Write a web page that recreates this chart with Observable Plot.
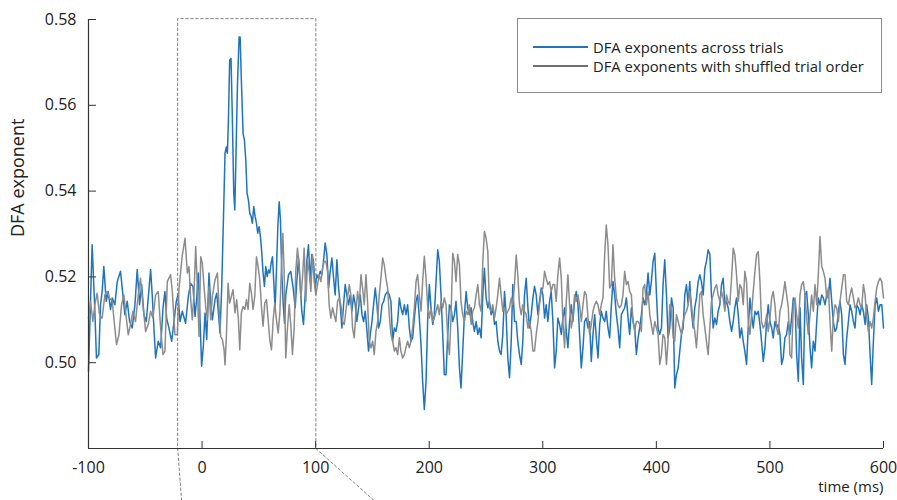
<!DOCTYPE html>
<html><head><meta charset="utf-8">
<script src="https://cdn.jsdelivr.net/npm/d3@7"></script>
<script src="https://cdn.jsdelivr.net/npm/@observablehq/plot@0.6"></script>
<style>
body{margin:0;background:#fff;}
#wrap{position:relative;width:897px;height:500px;font-family:"Open Sans",sans-serif;}
#legend{position:absolute;left:517px;top:18px;width:365px;height:75px;border:1px solid #8c8c8c;box-sizing:border-box;background:#fff;font-size:14.8px;color:#222;}
.row{position:absolute;left:15px;display:flex;align-items:center;height:20px;white-space:nowrap;}
.sw{display:inline-block;width:55px;height:1.6px;margin-right:5px;}
</style></head><body><div id="wrap"></div>
<script>
// ---- data ----
const seriesNames = ["DFA exponents across trials", "DFA exponents with shuffled trial order"];
const xTicks = [-100, 0, 100, 200, 300, 400, 500, 600];
const yTicks = [0.50, 0.52, 0.54, 0.56, 0.58];
const xLabel = "time (ms)";
const yLabel = "DFA exponent";

const blueT = [-100,-96.8,-94.4,-93.0,-90.9,-89.4,-88.0,-86.5,-84.4,-82.7,-80.6,-79.1,-76.8,-74.7,-71.8,-69.7,-68.0,-65.9,-63.8,-61.5,-59.1,-57.1,-55.0,-53.2,-51.2,-49.1,-47.4,-45.3,-43.9,-42.4,-40.9,-38.6,-36.5,-34.4,-32.7,-31.2,-29.2,-26.8,-24.7,-22.7,-21.2,-19.4,-17.4,
-14.5,-12.1,-10.0,-8.0,-6.2,-4.8,-3.3,-1.8,-0.4,1.1,2.6,4.1,6.1,7.6,9.1,11.4,12.9,14.4,15.8,17.3,18.8,20.2,21.4,22.3,23.2,24.3,25.5,26.7,27.9,28.8,29.9,31.1,32.6,33.5,34.6,36.1,37.3,38.5,39.6,40.8,42.0,43.2,44.3,45.5,46.7,47.9,49.0,50.2,51.4,52.6,53.7,54.9,56.1,57.3,58.5,59.6,60.8,62.0,63.2,64.3,65.5,66.7,67.9,69.0,70.2,71.4,72.6,
73.7,76.1,78.1,80.2,82.0,83.4,84.9,86.4,87.8,89.3,90.8,92.2,93.7,95.2,96.6,98.1,99.6,101.1,102.5,104.0,105.5,106.9,108.4,109.9,111.4,112.8,114.3,115.8,117.2,118.7,120.2,121.6,123.1,124.6,126.0,127.5,129.0,130.5,131.9,133.4,134.9,136.3,137.8,139.3,140.8,142.2,143.7,145.2,146.6,148.1,149.6,151.0,152.5,154.0,155.4,156.9,158.4,159.9,161.3,
163.4,164.8,166.3,167.8,169.3,170.7,172.2,173.7,175.1,176.6,178.1,179.5,181.0,182.5,183.9,185.4,186.9,188.4,189.8,191.3,192.8,194.2,195.7,197.2,198.6,200.1,201.6,203.1,204.5,206.0,207.5,208.9,210.4,211.9,213.3,214.8,216.3,217.8,219.2,220.7,222.2,223.6,225.1,226.6,228.0,229.5,231.0,232.5,233.9,235.4,236.9,238.3,239.8,241.3,242.8,244.2,245.7,247.2,248.6,250.1,
251.6,253.0,254.5,256.0,257.5,258.9,260.4,261.9,263.3,264.8,266.3,267.7,269.2,270.7,272.2,273.6,275.1,276.6,278.0,279.5,281.0,282.4,283.9,285.4,286.9,288.3,289.8,291.3,292.7,294.2,295.7,297.1,298.6,300.1,301.6,303.0,304.5,306.0,307.4,308.9,310.4,311.8,313.3,314.8,316.3,317.7,319.2,320.7,322.1,323.6,325.1,326.5,328.0,329.5,331.0,332.4,333.9,335.4,336.8,338.3,
339.8,341.2,342.7,344.2,345.7,347.1,348.6,350.1,351.5,353.0,354.5,355.9,357.4,358.9,360.4,361.8,363.3,364.8,366.2,367.7,369.2,370.6,372.1,373.6,375.1,376.5,378.0,379.5,380.9,382.4,383.9,385.3,386.8,388.3,389.8,391.2,392.7,394.2,395.6,397.1,398.6,400.1,401.5,403.0,404.5,405.9,407.4,408.9,410.3,411.8,413.3,414.8,416.2,417.7,419.2,420.6,422.1,423.6,425.0,426.5,
428.0,429.4,430.9,432.4,433.8,435.3,436.8,438.3,439.7,441.2,442.7,444.1,445.6,447.1,448.5,450.0,451.5,453.0,454.4,455.9,457.4,458.8,460.3,461.8,463.2,464.7,466.2,467.7,469.1,470.6,472.1,473.5,475.0,476.5,477.9,479.4,480.9,482.4,483.8,485.3,486.8,488.2,489.7,491.2,492.6,494.1,495.6,497.1,498.5,500.0,501.5,502.9,504.4,505.9,507.3,508.8,510.3,511.7,513.2,514.7,
516.2,517.6,519.1,520.6,522.1,523.5,525.0,526.5,527.9,529.4,530.9,532.3,533.8,535.3,536.7,538.2,539.7,541.2,542.6,544.1,545.6,547.0,548.5,550.0,551.4,552.9,554.4,555.8,557.3,558.8,560.3,561.7,563.2,564.7,566.1,567.6,569.1,570.5,572.0,573.5,574.9,576.4,577.9,579.4,580.8,582.3,583.8,585.2,586.7,588.2,589.6,591.1,592.6,594.0,595.5,597.0,598.5,600];
const blueV = [.4980,.5275,.5120,.5011,.5019,.5135,.5166,.5224,.5143,.5166,.5124,.5151,.5135,.5189,.5213,.5158,.5112,.5143,.5096,.5081,.5135,.5217,.5135,.5182,.5112,.5096,.5151,.5217,.5158,.5081,.5011,.5050,.5035,.5128,.5166,.5104,.5081,.5050,.5096,.5143,.5158,.5096,.5120,
.5092,.5155,.5185,.5178,.5108,.5147,.5209,.5100,.4992,.5038,.5116,.5054,.5209,.5139,.5100,.5147,.5162,.5116,.5069,.5178,.5333,.5488,.5503,.5488,.5565,.5705,.5709,.5565,.5395,.5356,.5488,.5643,.5759,.5759,.5658,.5534,.5519,.5472,.5395,.5379,.5348,.5341,.5325,.5364,.5341,.5325,.5302,.5317,.5294,.5255,.5209,.5178,.5224,.5201,.5216,.5209,.5232,.5247,.5185,.5124,.5216,.5317,.5375,.5333,.5209,.5139,.5092,
.5158,.5205,.5213,.5174,.5128,.5189,.5244,.5182,.5120,.5089,.5158,.5236,.5275,.5189,.5252,.5236,.5174,.5205,.5197,.5213,.5205,.5236,.5279,.5252,.5174,.5213,.5244,.5197,.5158,.5240,.5174,.5135,.5081,.5135,.5182,.5158,.5135,.5158,.5120,.5158,.5135,.5096,.5128,.5158,.5112,.5096,.5120,.5073,.5027,.5066,.5096,.5135,.5174,.5135,.5081,.5096,.5135,.5143,.5158,
.5166,.5158,.5143,.5050,.5081,.5073,.5096,.5151,.5128,.5112,.5135,.5112,.5135,.5081,.5050,.5058,.5104,.5143,.5158,.5104,.5042,.4957,.4891,.4957,.5096,.5182,.5128,.5089,.5112,.5189,.5263,.5236,.5158,.5065,.4972,.4972,.5065,.5135,.5128,.5096,.5112,.5143,.5081,.4988,.4941,.5027,.5112,.5166,.5128,.5112,.5128,.5096,.5073,.5096,.5066,.5081,.5058,.5158,.5220,.5151,
.5128,.5143,.5112,.5128,.5089,.5096,.5050,.5027,.5019,.5066,.5166,.5112,.5011,.4965,.5050,.5182,.5096,.5096,.5050,.5019,.4996,.5050,.5158,.5197,.5128,.5081,.5112,.5151,.5178,.5158,.5112,.5143,.5174,.5158,.5104,.5135,.5096,.5143,.5166,.5096,.4988,.5027,.5104,.5089,.5066,.5104,.5128,.5073,.5035,.5096,.5135,.5096,.5143,.5166,.5135,.5066,.4988,.5035,.5096,.5104,
.5081,.5096,.5003,.5066,.5112,.5058,.5011,.5089,.5120,.5104,.5096,.5120,.5081,.5058,.5135,.5189,.5158,.5112,.5081,.5035,.5112,.5120,.5128,.5151,.5104,.5066,.5128,.5096,.5081,.5019,.5058,.5081,.5112,.5151,.5135,.5158,.5209,.5158,.5189,.5236,.5255,.5158,.5081,.5066,.5081,.5182,.5240,.5158,.5058,.5081,.5151,.5128,.4941,.4972,.4988,.5027,.5066,.5081,.5158,.5182,
.5135,.5189,.5120,.5081,.5128,.5151,.5189,.5205,.5189,.5158,.5220,.5236,.5263,.5252,.5158,.5081,.5104,.5089,.5120,.5135,.5182,.5197,.5135,.5143,.5128,.5096,.5073,.5096,.5128,.5151,.5112,.5058,.5081,.5050,.5027,.4996,.5081,.5151,.5112,.5081,.5120,.5112,.5120,.5089,.5050,.5003,.5035,.5096,.5135,.5096,.5081,.5058,.5096,.5081,.5089,.5066,.4996,.5011,.5058,.5066,
.5096,.5066,.5104,.5151,.5143,.5019,.4957,.5128,.5011,.4949,.5158,.5166,.5112,.5035,.4988,.5050,.5027,.5096,.5151,.5135,.5158,.5151,.5135,.5158,.5151,.5197,.5143,.5096,.5073,.5081,.5120,.5143,.5112,.5019,.4996,.5058,.5096,.5135,.5120,.5096,.5081,.5135,.5128,.5112,.5135,.5120,.5089,.5135,.5104,.5019,.4949,.5050,.5135,.5151,.5120,.5135,.5135,.5081];

const grayT = [-100,-98.2,-96.2,-94.4,-92.4,-90.3,-88.0,-85.6,-83.5,-81.5,-79.1,-76.8,-75.3,-73.2,-70.9,-68.8,-67.4,-65.0,-63.0,-60.9,-58.6,-56.2,-54.2,-52.1,-49.7,-47.4,-45.3,-43.3,-40.9,-38.6,-36.5,-34.4,-32.7,-30.6,-29.2,-27.7,-26.2,-23.9,-21.8,-20.3,-17.4,-15.0,
-13.0,-11.5,-10.0,-8.6,-7.1,-5.6,-4.2,-2.7,-1.2,0.2,1.7,3.2,4.7,6.1,7.6,9.1,11.4,13.5,14.9,16.4,17.9,19.4,20.2,21.4,22.9,24.3,25.8,27.3,29.0,30.5,32.0,33.2,34.6,36.1,37.6,39.1,40.5,42.0,43.5,44.9,46.4,47.9,49.3,50.8,52.3,53.7,55.2,56.7,58.2,59.6,61.1,62.6,64.0,65.5,67.0,68.5,69.9,71.1,72.3,
73.7,75.2,76.7,78.1,79.6,81.1,82.5,84.0,85.5,87.0,88.4,89.9,91.4,92.8,94.3,95.8,97.2,98.7,100.2,101.7,103.1,104.6,106.1,107.5,109.0,110.5,111.9,113.4,114.9,116.3,117.8,119.3,120.8,122.2,123.7,125.2,126.6,128.1,129.6,131.0,132.5,134.0,135.5,136.9,138.4,139.9,141.3,142.8,144.3,145.7,147.2,148.7,150.2,151.6,153.1,154.6,156.0,157.5,159.0,160.4,161.9,
163.4,164.8,166.3,167.8,169.3,170.7,172.2,173.7,175.1,176.6,178.1,179.5,181.0,182.5,183.9,185.4,186.9,188.4,189.8,191.3,192.8,194.2,195.7,197.2,198.6,200.1,201.6,203.1,204.5,206.0,207.5,208.9,210.4,211.9,213.3,214.8,216.3,217.8,219.2,220.7,222.2,223.6,225.1,226.6,228.0,229.5,231.0,232.5,233.9,235.4,236.9,238.3,239.8,241.3,242.8,244.2,245.7,247.2,248.6,250.1,
251.6,253.0,254.5,256.0,257.5,258.9,260.4,261.9,263.3,264.8,266.3,267.7,269.2,270.7,272.2,273.6,275.1,276.6,278.0,279.5,281.0,282.4,283.9,285.4,286.9,288.3,289.8,291.3,292.7,294.2,295.7,297.1,298.6,300.1,301.6,303.0,304.5,306.0,307.4,308.9,310.4,311.8,313.3,314.8,316.3,317.7,319.2,320.7,322.1,323.6,325.1,326.5,328.0,329.5,331.0,332.4,333.9,335.4,336.8,338.3,
339.8,341.2,342.7,344.2,345.7,347.1,348.6,350.1,351.5,353.0,354.5,355.9,357.4,358.9,360.4,361.8,363.3,364.8,366.2,367.7,369.2,370.6,372.1,373.6,375.1,376.5,378.0,379.5,380.9,382.4,383.9,385.3,386.8,388.3,389.8,391.2,392.7,394.2,395.6,397.1,398.6,400.1,401.5,403.0,404.5,405.9,407.4,408.9,410.3,411.8,413.3,414.8,416.2,417.7,419.2,420.6,422.1,423.6,425.0,426.5,
428.0,429.4,430.9,432.4,433.8,435.3,436.8,438.3,439.7,441.2,442.7,444.1,445.6,447.1,448.5,450.0,451.5,453.0,454.4,455.9,457.4,458.8,460.3,461.8,463.2,464.7,466.2,467.7,469.1,470.6,472.1,473.5,475.0,476.5,477.9,479.4,480.9,482.4,483.8,485.3,486.8,488.2,489.7,491.2,492.6,494.1,495.6,497.1,498.5,500.0,501.5,502.9,504.4,505.9,507.3,508.8,510.3,511.7,513.2,514.7,
516.2,517.6,519.1,520.6,522.1,523.5,525.0,526.5,527.9,529.4,530.9,532.3,533.8,535.3,536.7,538.2,539.7,541.2,542.6,544.1,545.6,547.0,548.5,550.0,551.4,552.9,554.4,555.8,557.3,558.8,560.3,561.7,563.2,564.7,566.1,567.6,569.1,570.5,572.0,573.5,574.9,576.4,577.9,579.4,580.8,582.3,583.8,585.2,586.7,588.2,589.6,591.1,592.6,594.0,595.5,597.0,598.5,600];
const grayV = [.5104,.5143,.5096,.5135,.5162,.5112,.5104,.5158,.5166,.5151,.5143,.5081,.5042,.5065,.5135,.5158,.5120,.5065,.5089,.5120,.5096,.5158,.5197,.5135,.5073,.5089,.5120,.5104,.5158,.5166,.5081,.5019,.5027,.5189,.5197,.5205,.5166,.5065,.5065,.5174,.5251,.5290,
.5209,.5224,.5147,.5100,.5162,.5271,.5178,.5061,.5247,.5232,.5178,.5131,.5100,.5178,.5100,.5155,.5193,.5209,.5131,.5061,.5054,.5030,.4995,.5061,.5185,.5139,.5155,.5170,.5116,.5147,.5100,.5030,.5116,.5131,.5124,.5147,.5124,.5185,.5162,.5124,.5155,.5247,.5224,.5193,.5131,.5085,.5139,.5147,.5100,.5054,.5030,.5100,.5139,.5100,.5069,.5116,.5224,.5302,.5209,
.5011,.5081,.5135,.5089,.5019,.5081,.5213,.5267,.5228,.5151,.5197,.5267,.5143,.5236,.5213,.5166,.5252,.5189,.5158,.5182,.5205,.5189,.5221,.5236,.5236,.5213,.5135,.5104,.5128,.5112,.5096,.5143,.5151,.5135,.5096,.5089,.5120,.5151,.5182,.5158,.5081,.5058,.5120,.5166,.5135,.5205,.5174,.5135,.5205,.5143,.5050,.5035,.5050,.5019,.5073,.5096,.5158,.5197,.5244,.5228,.5197,
.5174,.5112,.5066,.5050,.5027,.5035,.5019,.5058,.5027,.5011,.5019,.5035,.5050,.5035,.5050,.5081,.5128,.5189,.5205,.5158,.5120,.5189,.5248,.5197,.5135,.5104,.5128,.5096,.5104,.5120,.5135,.5112,.5143,.5128,.5151,.5135,.5058,.5019,.5104,.5255,.5236,.5189,.5252,.5228,.5143,.5112,.5096,.5120,.5112,.5135,.5089,.5120,.5128,.5158,.5182,.5135,.5120,.5236,.5306,.5290,
.5259,.5128,.5120,.5135,.5104,.5128,.5158,.5197,.5158,.5120,.5128,.5112,.5120,.5128,.5151,.5135,.5182,.5251,.5205,.5135,.5112,.5135,.5120,.5112,.5081,.5096,.5073,.5027,.5027,.5066,.5096,.5135,.5166,.5174,.5213,.5197,.5182,.5189,.5166,.5182,.5182,.5143,.5205,.5244,.5197,.5096,.5035,.5143,.5205,.5135,.5081,.5104,.5158,.5143,.5158,.5135,.5096,.5135,.5166,.5158,
.5104,.5066,.5089,.5120,.5135,.5143,.5135,.5112,.5135,.5151,.5252,.5321,.5275,.5174,.5182,.5275,.5197,.5151,.5135,.5128,.5135,.5158,.5213,.5182,.5189,.5166,.5158,.5096,.5073,.5096,.5096,.5089,.5073,.5174,.5182,.5135,.5166,.5112,.5089,.5066,.5096,.5081,.5066,.4996,.5019,.5066,.5058,.4996,.5050,.5135,.5120,.5058,.5050,.5112,.5096,.5081,.5066,.5096,.5112,.5120,
.5135,.5166,.5135,.5096,.5073,.5035,.5096,.5158,.5166,.5112,.5081,.5050,.5019,.5081,.5143,.5158,.5174,.5182,.5158,.5143,.5166,.5151,.5120,.5158,.5143,.5135,.5197,.5267,.5252,.5205,.5143,.5182,.5174,.5135,.5213,.5189,.5096,.5066,.5112,.5166,.5213,.5252,.5259,.5189,.5096,.5081,.5089,.5112,.5073,.5104,.5151,.5166,.5135,.5081,.5066,.5120,.5135,.5158,.5189,.5158,
.5128,.5019,.5011,.5135,.5151,.5112,.5081,.5158,.5182,.5189,.5158,.5104,.5066,.5112,.5158,.5120,.5182,.5135,.5205,.5294,.5224,.5213,.5197,.5151,.5174,.5096,.5027,.5104,.5135,.5128,.5096,.5143,.5174,.5205,.5205,.5143,.5135,.5158,.5174,.5151,.5128,.5135,.5151,.5135,.5128,.5182,.5158,.5104,.5073,.5096,.5081,.5104,.5143,.5174,.5189,.5197,.5189,.5151];

// zoom-window annotation (time in ms, exponent units)
const zoomWindow = [-21.5, 100.2];
const zoomLeadEnds = [-18, 151.3];
const zoomTop = 0.5802, axisBase = 0.48, leadBottom = 0.4679;

// ---- build ----
const blue = blueT.map((t, i) => ({t, v: blueV[i]}));
const gray = grayT.map((t, i) => ({t, v: grayV[i]}));
const zoomPath = [
  {t: zoomLeadEnds[0], v: leadBottom}, {t: zoomWindow[0], v: axisBase}, {t: zoomWindow[0], v: zoomTop},
  {t: zoomWindow[1], v: zoomTop}, {t: zoomWindow[1], v: axisBase}, {t: zoomLeadEnds[1], v: leadBottom}
];
const BLUE = "#1f74bd", GRAY = "#8c8c8c", INK = "#222";

const chart = Plot.plot({
  width: 897, height: 500,
  marginLeft: 88, marginRight: 14, marginTop: 19, marginBottom: 52,
  x: {domain: [-100, 600], label: null},
  y: {domain: [0.48, 0.58], label: null},
  style: {fontFamily: "Open Sans", fontSize: "16px", color: INK, background: "white", overflow: "visible"},
  marks: [
    Plot.line(blue, {x: "t", y: "v", stroke: BLUE, strokeWidth: 1.5}),
    Plot.line(gray, {x: "t", y: "v", stroke: GRAY, strokeWidth: 1.5}),
    Plot.line(zoomPath, {x: "t", y: "v", stroke: "#808080", strokeWidth: 1, strokeDasharray: "2.5,2.5"}),
    Plot.ruleX([-100], {stroke: "#333", strokeWidth: 1.2}),
    Plot.ruleY([0.48], {stroke: "#333", strokeWidth: 1.2}),
    Plot.axisY(yTicks, {tickSize: 8, dx: 8, tickFormat: () => "", label: null, stroke: "#333"}),
    Plot.axisY(yTicks, {tickSize: 0, tickPadding: 12, tickFormat: d3.format(".2f"), label: null, fill: INK, fontSize: 16}),
    Plot.axisX(xTicks, {tickSize: 7, dy: -7, tickFormat: () => "", label: null, stroke: "#333"}),
    Plot.axisX(xTicks, {tickSize: 0, tickPadding: 13, tickFormat: d => String(d), label: null, fill: INK, fontSize: 16}),
    Plot.text([xLabel], {frameAnchor: "bottom-right", dy: 43, text: d => d, textAnchor: "end", fontSize: 15, fill: INK}),
    Plot.text([yLabel], {frameAnchor: "left", dx: -70, dy: 3, rotate: -90, text: d => d, fontSize: 18, fill: INK})
  ]
});
const wrap = document.getElementById("wrap");
wrap.appendChild(chart);
const legend = document.createElement("div");
legend.id = "legend";
[BLUE, "#707070"].forEach((c, i) => {
  const row = document.createElement("div");
  row.className = "row";
  row.style.top = (18 + i * 19) + "px";
  const sw = document.createElement("span");
  sw.className = "sw"; sw.style.background = c;
  const tx = document.createElement("span");
  tx.textContent = seriesNames[i];
  row.appendChild(sw); row.appendChild(tx);
  legend.appendChild(row);
});
wrap.appendChild(legend);
</script></body></html>
